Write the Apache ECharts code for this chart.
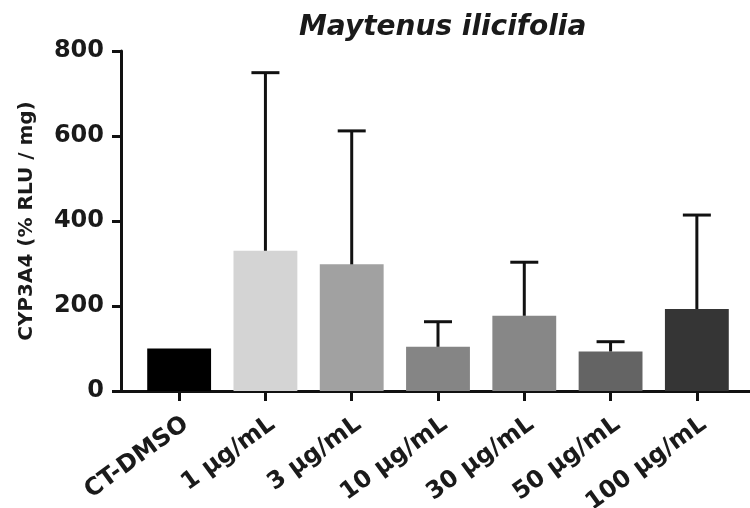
<!DOCTYPE html>
<html>
<head>
<meta charset="utf-8">
<script src="https://cdn.jsdelivr.net/npm/echarts@6/dist/echarts.min.js"></script>
<style>
  html, body { margin: 0; padding: 0; background: #fff; }
  #chart { width: 750px; height: 508px; }
</style>
</head>
<body>
<div id="chart"></div>
<script>
  // 数据
  const categories = ['CT-DMSO', '1 µg/mL', '3 µg/mL', '10 µg/mL', '30 µg/mL', '50 µg/mL', '100 µg/mL'];
  const means = [100, 330, 298, 104, 177, 93, 193];
  const errorTops = [null, 749, 612, 163, 303, 116, 414];
  const yTicks = [0, 200, 400, 600, 800];

  const barColors = ['#000000', '#d4d4d4', '#a1a1a1', '#858585', '#878787', '#646464', '#353535'];
  const font = 'DejaVu Sans';

  const chart = echarts.init(document.getElementById('chart'));

  const option = {
    animation: false,
    backgroundColor: '#fff',
    title: {
      text: 'Maytenus ilicifolia',
      left: 294,
      top: 9,
      textStyle: { fontFamily: font, fontSize: 28, fontWeight: 'bold', fontStyle: 'italic', color: '#1a1a1a' }
    },
    grid: [
      { left: 136, right: 10, top: 51, bottom: 117, outerBoundsMode: 'none' },
      // 只用来画延长的基线
      { left: 121, right: 0, top: 51, bottom: 117, outerBoundsMode: 'none' }
    ],
    xAxis: [
      {
        type: 'category',
        gridIndex: 0,
        data: categories,
        axisLine: { show: false },
        axisTick: { show: true, alignWithLabel: true, length: 10, lineStyle: { color: '#111', width: 3 } },
        axisLabel: {
          rotate: 36,
          margin: 21,
          verticalAlign: 'top',
          interval: 0,
          fontFamily: font,
          fontSize: 24,
          fontWeight: 'bold',
          color: '#1a1a1a'
        }
      },
      {
        type: 'value',
        gridIndex: 1,
        min: 0,
        max: 1,
        axisLine: { show: true, onZero: false, lineStyle: { color: '#111', width: 3 } },
        axisTick: { show: false },
        axisLabel: { show: false },
        splitLine: { show: false }
      }
    ],
    yAxis: [
      {
        type: 'value',
        gridIndex: 0,
        min: yTicks[0],
        max: yTicks[yTicks.length - 1],
        interval: yTicks[1] - yTicks[0],
        offset: 15,
        name: 'CYP3A4 (% RLU / mg)',
        nameLocation: 'middle',
        nameGap: 84,
        nameTextStyle: { fontFamily: font, fontSize: 20, fontWeight: 'bold', color: '#1a1a1a' },
        axisLine: { show: true, lineStyle: { color: '#111', width: 3 } },
        axisTick: { show: true, length: 9, lineStyle: { color: '#111', width: 3 } },
        axisLabel: { margin: 17, fontFamily: font, fontSize: 24, fontWeight: 'bold', color: '#1a1a1a' },
        splitLine: { show: false }
      },
      { type: 'value', gridIndex: 1, min: 0, max: 800, show: false }
    ],
    series: [
      {
        type: 'bar',
        xAxisIndex: 0,
        yAxisIndex: 0,
        barCategoryGap: '26%',
        data: means.map(function(v, i) {
          return { value: v, itemStyle: { color: barColors[i] } };
        })
      },
      {
        type: 'custom',
        xAxisIndex: 0,
        yAxisIndex: 0,
        z: 5,
        data: categories.map(function(c, i) { return [i, means[i], errorTops[i]]; }),
        renderItem: function(params, api) {
          const top = api.value(2);
          if (top == null || isNaN(top)) return null;
          const base = api.coord([api.value(0), api.value(1)]);
          const end = api.coord([api.value(0), top]);
          const half = 14;
          const style = { stroke: '#111', lineWidth: 3 };
          return {
            type: 'group',
            children: [
              { type: 'line', shape: { x1: base[0], y1: base[1], x2: end[0], y2: end[1] }, style: style },
              { type: 'line', shape: { x1: end[0] - half, y1: end[1], x2: end[0] + half, y2: end[1] }, style: style }
            ]
          };
        }
      }
    ]
  };

  chart.setOption(option);
</script>
</body>
</html>
